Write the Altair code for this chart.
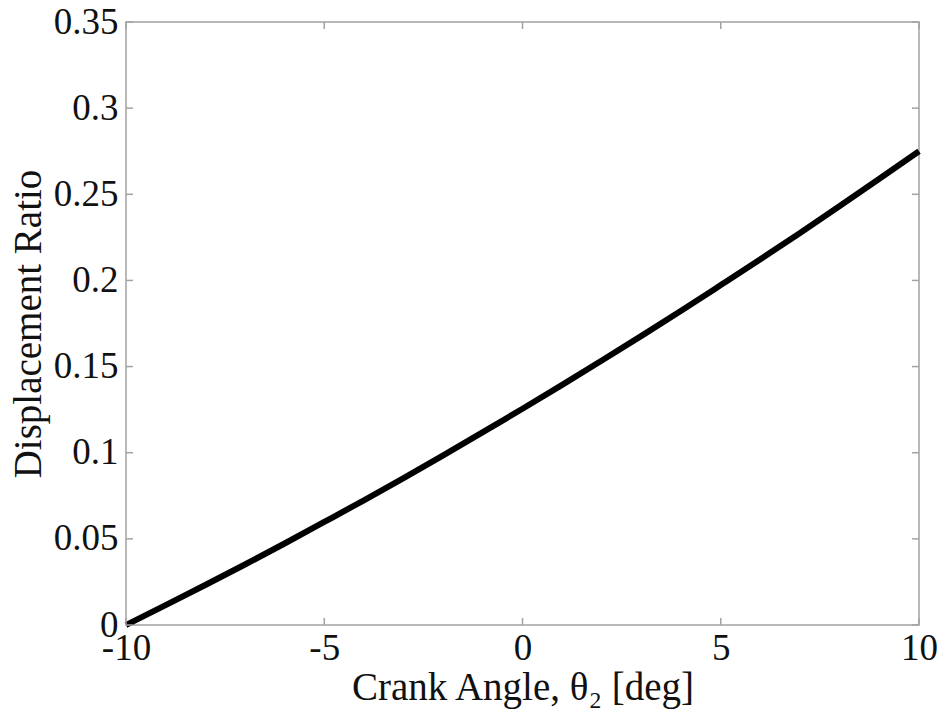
import altair as alt
import pandas as pd

angle = [-10, -9, -8, -7, -6, -5, -4, -3, -2, -1, 0, 1, 2, 3, 4, 5, 6, 7, 8, 9, 10]
ratio = [0.0, 0.0115, 0.0232, 0.0351, 0.0473, 0.0598, 0.0724, 0.0853, 0.0985, 0.1119,
         0.1255, 0.1394, 0.1535, 0.1678, 0.1824, 0.1973, 0.2123, 0.2276, 0.2432, 0.2590, 0.275]
xticks = [-10, -5, 0, 5, 10]
yticks = [0, 0.05, 0.1, 0.15, 0.2, 0.25, 0.3, 0.35]

W, H = 793, 603
FONT = "Liberation Serif"
LFS = 37
TFS = 39
GRAY = "#a3a3a3"

df = pd.DataFrame({"angle": angle, "ratio": ratio})
dx = pd.DataFrame({"angle": xticks})
dy = pd.DataFrame({"ratio": yticks})

xs = alt.Scale(domain=[-10, 10], nice=False, zero=False)
ys = alt.Scale(domain=[0, 0.35], nice=False, zero=False)

xa = alt.Axis(
    values=xticks, title="Crank Angle, θ₂ [deg]", labelExpr="'' + datum.value",
    domain=False, ticks=False, grid=False, labelFlush=False, labelOverlap=False,
    labelFont=FONT, labelFontSize=LFS, labelColor="#111", labelPadding=5,
    titleFont=FONT, titleFontSize=TFS, titleFontWeight="normal", titleColor="#111",
    titleBaseline="alphabetic", titleY=74, titleX=W / 2)
ya = alt.Axis(
    values=yticks, title="Displacement Ratio", format=".2~f",
    domain=False, ticks=False, grid=False, labelFlush=False, labelOverlap=False,
    labelFont=FONT, labelFontSize=LFS, labelColor="#111", labelPadding=8,
    titleFont=FONT, titleFontSize=TFS, titleFontWeight="normal", titleColor="#111",
    titleBaseline="alphabetic", titleAngle=270, titleX=-86, titleY=H / 2)

line = alt.Chart(df).mark_line(color="black", strokeWidth=6, interpolate="monotone").encode(
    x=alt.X("angle:Q", scale=xs, axis=xa),
    y=alt.Y("ratio:Q", scale=ys, axis=ya),
)

tick_style = dict(color=GRAY, strokeWidth=1.5)
bx = alt.Chart(dx).mark_rule(**tick_style).encode(
    x=alt.X("angle:Q", scale=xs, axis=xa), y=alt.value(H), y2=alt.value(H - 7))
tx = alt.Chart(dx).mark_rule(**tick_style).encode(
    x=alt.X("angle:Q", scale=xs, axis=xa), y=alt.value(0), y2=alt.value(7))
ly = alt.Chart(dy).mark_rule(**tick_style).encode(
    y=alt.Y("ratio:Q", scale=ys, axis=ya), x=alt.value(0), x2=alt.value(7))
ry = alt.Chart(dy).mark_rule(**tick_style).encode(
    y=alt.Y("ratio:Q", scale=ys, axis=ya), x=alt.value(W), x2=alt.value(W - 7))

chart = alt.layer(line, bx, tx, ly, ry).properties(
    width=W, height=H,
    autosize=alt.AutoSizeParams(type="none"),
    padding={"left": 126, "top": 22, "right": 24, "bottom": 95},
    background="white",
).configure_view(stroke=GRAY, strokeWidth=1.5)

chart.save("out.html", embed_options={"renderer": "svg", "actions": False})
